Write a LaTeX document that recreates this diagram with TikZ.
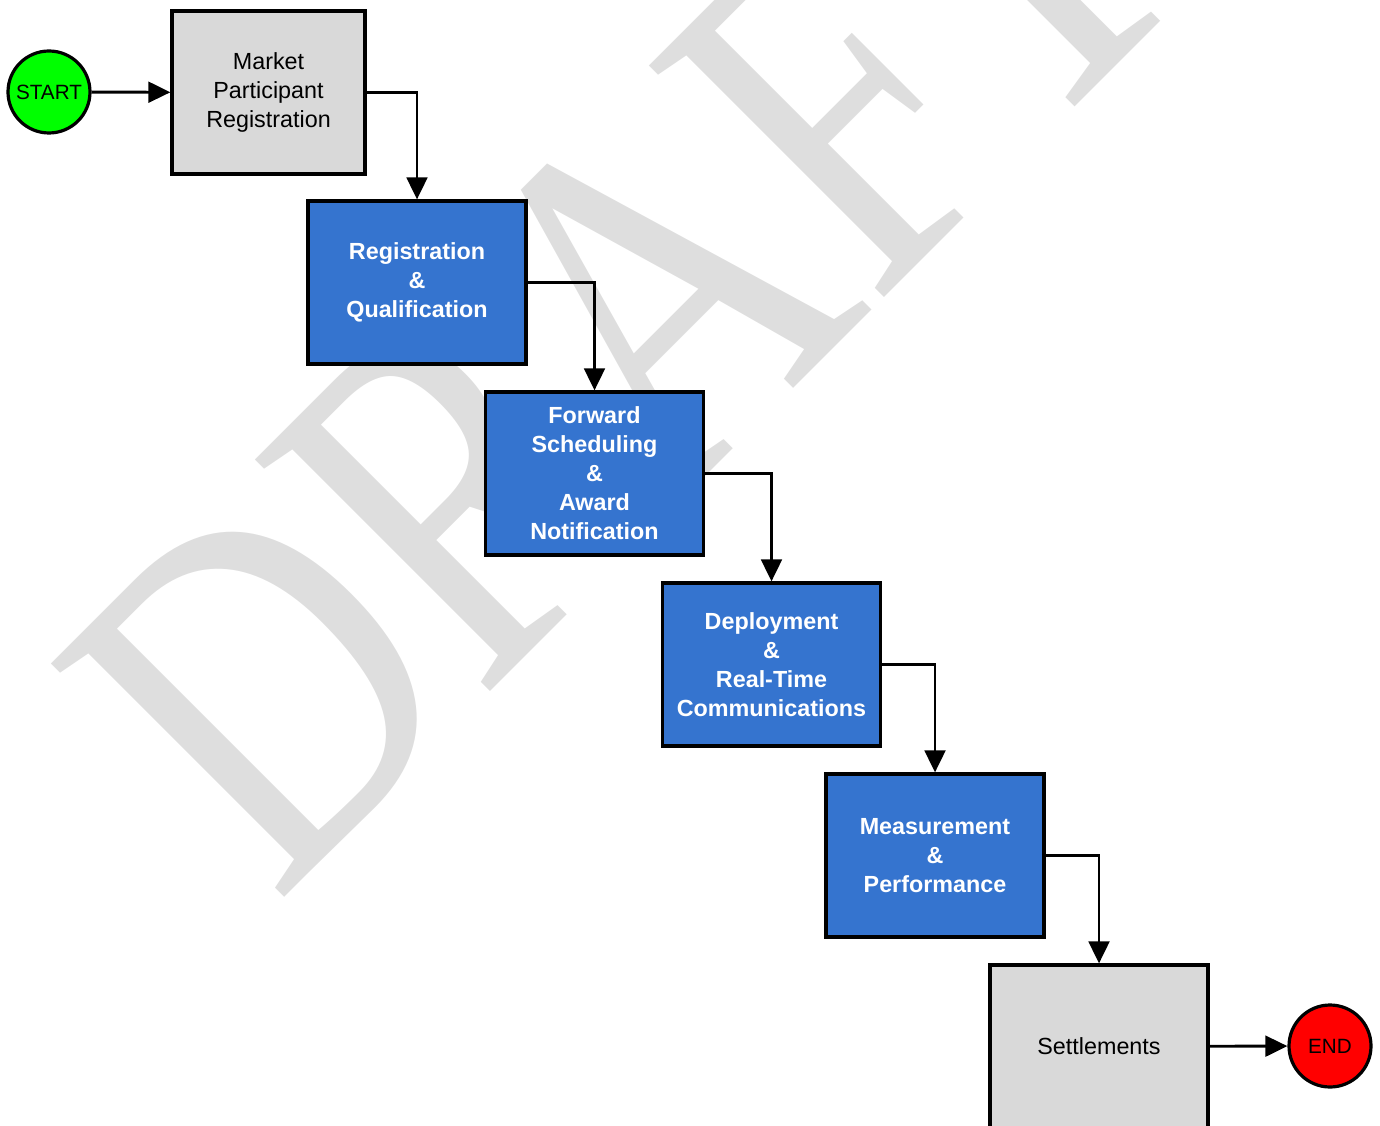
\documentclass[tikz,border=0pt]{standalone}
\usepackage{fontspec}
\setmainfont{Liberation Sans}
\newfontfamily\wmfont{Liberation Serif}
\usetikzlibrary{arrows.meta}

\definecolor{stepblue}{HTML}{3574CF}
\definecolor{boxgray}{HTML}{D9D9D9}
\definecolor{startgreen}{HTML}{00FF00}
\definecolor{endred}{HTML}{FF0000}
\definecolor{wmgray}{HTML}{DEDEDE}

\tikzset{
  process/.style={draw, line width=2.4pt, minimum width=163.5pt, minimum height=122.25pt, align=center, inner sep=0pt},
  grayproc/.style={process, fill=boxgray, font=\fontsize{17.5}{21.5}\selectfont},
  blueproc/.style={process, fill=stepblue, text=white, font=\bfseries\fontsize{17.5}{21.75}\selectfont},
  terminal/.style={circle, draw, line width=2.4pt, minimum size=61.5pt, inner sep=0pt, font=\fontsize{15.5}{18}\selectfont},
  flow/.style={line width=2.2pt, -{Triangle[length=16.5pt, width=15.5pt]}}
}

\begin{document}
\begin{tikzpicture}[x=0.75pt, y=-0.75pt]
  \useasboundingbox (0,0) rectangle (1380,1126);

  % watermark
  \begin{scope}
    \clip (0,0) rectangle (1380,1126);
    \node[rotate=45, xscale=0.795, anchor=base west, inner sep=0pt, text=wmgray,
          font=\wmfont\fontsize{378}{390}\selectfont] (draft) at (276,906) {DRAFT};
  \end{scope}

  % terminals
  \node[terminal, fill=startgreen] (start) at (49,92) {START};
  \node[terminal, fill=endred] (end) at (1330,1046) {END};

  % steps
  \node[grayproc, minimum width=144.75pt] (mpr) at (268.5,92.5) {Market\\Participant\\Registration};
  \node[blueproc] (rq) at (417,282.5) {Registration\\\&\\Qualification};
  \node[blueproc] (fs) at (594.5,473.5) {Forward\\Scheduling\\\&\\Award\\Notification};
  \node[blueproc] (dr) at (771.5,664.5) {Deployment\\\&\\Real-Time\\Communications};
  \node[blueproc] (mp) at (935,855.5) {Measurement\\\&\\Performance};
  \node[grayproc] (set) at (1099,1046.5) {Settlements};

  % connectors
  \draw[flow] (start) -- (mpr);
  \draw[flow] (mpr.east) -| (rq.north);
  \draw[flow] (rq.east) -| (fs.north);
  \draw[flow] (fs.east) -| (dr.north);
  \draw[flow] (dr.east) -| (mp.north);
  \draw[flow] (mp.east) -| (set.north);
  \draw[flow] (set) -- (end);
\end{tikzpicture}
\end{document}
